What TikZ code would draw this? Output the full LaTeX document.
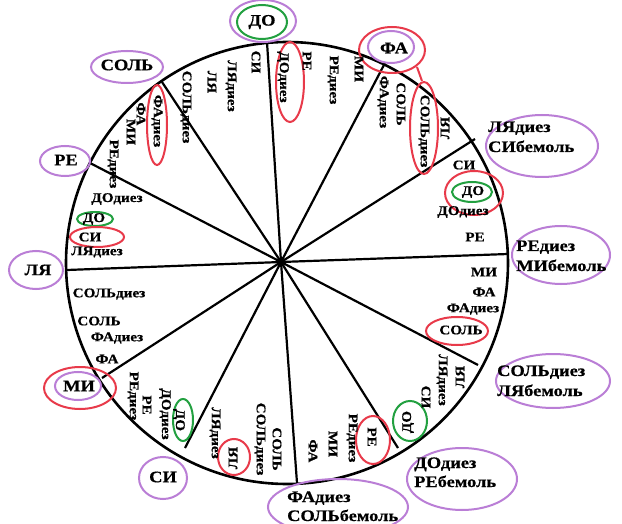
\documentclass[tikz,border=0pt]{standalone}
\usepackage{fontspec}
\newfontfamily\notefont{Liberation Serif Bold}[FakeStretch=1.15,FakeBold=0.6]
\definecolor{elpurple}{RGB}{186,126,214}
\definecolor{elred}{RGB}{232,58,74}
\definecolor{elgreen}{RGB}{34,160,64}
\begin{document}
\begin{tikzpicture}[x=1pt,y=-1pt,
 inn/.style={font=\notefont\fontsize{13.2}{14}\selectfont, inner sep=0pt},
 vdown/.style={inn, rotate=-90},
 vup/.style={inn, rotate=90},
 big/.style={font=\notefont\fontsize{16}{18}\selectfont, inner sep=0pt},
 bigline/.style={font=\notefont\fontsize{16}{18}\selectfont, inner sep=0pt, anchor=base west},
 pe/.style={draw=elpurple, line width=2pt},
 re/.style={draw=elred, line width=2pt},
 ge/.style={draw=elgreen, line width=2pt},
 spoke/.style={line width=2.2pt},
]
\useasboundingbox (0,0) rectangle (622,524);
\fill[white] (0,0) rectangle (622,524);
% circle
\draw[line width=2.6pt] (287,263) circle [radius=221pt];
% spokes
\coordinate (c) at (281,262);
\coordinate (s1) at (267,42);
\coordinate (s2) at (385,63);
\coordinate (s3) at (475,139);
\coordinate (s4) at (508,254);
\coordinate (s5) at (478,365);
\coordinate (s6) at (398,448);
\coordinate (s7) at (297,483);
\coordinate (s8) at (185,448);
\coordinate (s9) at (102,378);
\coordinate (s10) at (67,270);
\coordinate (s11) at (90,163);
\coordinate (s12) at (162,82);
\foreach \s in {s1,s2,s3,s4,s5,s6,s7,s8,s9,s10,s11,s12}{\draw[spoke] (c) -- (\s);}

% outer labels
\draw[pe] (263,21) ellipse [x radius=33pt, y radius=21pt];
\draw[ge] (262,22) ellipse [x radius=25pt, y radius=17pt];
\node[big] (o1) at (262,22) {ДО};

\draw[re] (392,50) ellipse [x radius=33pt, y radius=23pt];
\draw[pe] (391,47) ellipse [x radius=23pt, y radius=16pt];
\node[big] (o2) at (394,48) {ФА};

\draw[pe] (542,146) ellipse [x radius=56pt, y radius=31pt];
\node[bigline] (o3a) at (488,132) {ЛЯдиез};
\node[bigline] (o3b) at (488,152) {СИбемоль};

\draw[pe] (561,255) ellipse [x radius=49pt, y radius=29pt];
\node[bigline] (o4a) at (516,251) {РЕдиез};
\node[bigline] (o4b) at (516,271) {МИбемоль};

\draw[pe] (553,381) ellipse [x radius=57pt, y radius=27pt];
\node[bigline] (o5a) at (497,376) {СОЛЬдиез};
\node[bigline] (o5b) at (497,396) {ЛЯбемоль};

\draw[pe] (462,479) ellipse [x radius=55pt, y radius=31pt];
\node[bigline] (o6a) at (414,468) {ДОдиез};
\node[bigline] (o6b) at (414,487) {РЕбемоль};

\draw[pe] (338,507) ellipse [x radius=70pt, y radius=28pt];
\node[bigline] (o7a) at (287,502) {ФАдиез};
\node[bigline] (o7b) at (287,521) {СОЛЬбемоль};

\draw[pe] (163,478) ellipse [x radius=24pt, y radius=21pt];
\node[big] (o8) at (163,477) {СИ};

\draw[re] (80,388) ellipse [x radius=36pt, y radius=21pt];
\draw[pe] (78,386) ellipse [x radius=23pt, y radius=14pt];
\node[big] (o9) at (79,386) {МИ};

\draw[pe] (36,270) ellipse [x radius=27pt, y radius=19pt];
\node[big] (o10) at (38,270) {ЛЯ};

\draw[pe] (65,161) ellipse [x radius=25pt, y radius=15pt];
\node[big] (o11) at (66,160) {РЕ};

\draw[pe] (127,67) ellipse [x radius=36pt, y radius=16pt];
\node[big] (o12) at (127,65) {СОЛЬ};

% sector 1-2
\draw[re] (290,82) ellipse [x radius=14pt, y radius=40pt];
\node[vdown] (a1) at (283,77) {ДОдиез};
\node[vdown] (a2) at (307,61) {РЕ};
\node[vdown] (a3) at (333,80) {РЕдиез};
\node[vdown] (a4) at (359,69) {МИ};
% sector 2-3
\draw[re] (424,128) ellipse [x radius=14pt, y radius=46pt];
\coordinate (rl1) at (417,67);
\coordinate (rl2) at (422,81);
\draw[re] (rl1) -- (rl2);
\node[vdown] (b1) at (383,102) {ФАдиез};
\node[vdown] (b2) at (401,104) {СОЛЬ};
\node[vdown] (b3) at (424,131) {СОЛЬдиез};
\node[vup] (b4) at (445,128) {ЛЯ};
% sector 3-4
\draw[re] (474,193) ellipse [x radius=29pt, y radius=22pt];
\draw[ge] (472,192) ellipse [x radius=20pt, y radius=10pt];
\node[inn] (c1) at (464,165) {СИ};
\node[inn] (c2) at (473,192) {ДО};
\node[inn] (c3) at (463,212) {ДОдиез};
\node[inn] (c4) at (475,237) {РЕ};
% sector 4-5
\draw[re] (457,331) ellipse [x radius=31pt, y radius=14pt];
\node[inn] (d1) at (484,272) {МИ};
\node[inn] (d2) at (484,292) {ФА};
\node[inn] (d3) at (473,309) {ФАдиез};
\node[inn] (d4) at (461,330) {СОЛЬ};
% sector 5-6
\draw[ge] (410,421) ellipse [x radius=17pt, y radius=20pt];
\node[vup] (e1) at (460,377) {ЛЯ};
\node[vdown] (e2) at (442,380) {ЛЯдиез};
\node[vdown] (e3) at (426,397) {СИ};
\node[vup] (e4) at (408,422) {ДО};
% sector 6-7
\draw[re] (373,440) ellipse [x radius=17pt, y radius=24pt];
\node[vdown] (f1) at (372,437) {РЕ};
\node[vdown] (f2) at (352,438) {РЕдиез};
\node[vdown] (f3) at (333,444) {МИ};
\node[vdown] (f4) at (313,451) {ФА};
% sector 7-8
\draw[re] (234,457) ellipse [x radius=16pt, y radius=18pt];
\node[vdown] (g1) at (277,449) {СОЛЬ};
\node[vdown] (g2) at (260,439) {СОЛЬдиез};
\node[vup] (g3) at (233,458) {ЛЯ};
\node[vdown] (g4) at (215,433) {ЛЯдиез};
% sector 8-9
\draw[ge] (183,420) ellipse [x radius=10pt, y radius=21pt];
\node[vdown] (h1) at (179,420) {ДО};
\node[vdown] (h2) at (165,414) {ДОдиез};
\node[vdown] (h3) at (147,405) {РЕ};
\node[vdown] (h4) at (133,396) {РЕдиез};
% sector 9-10
\node[inn] (i1) at (109,294) {СОЛЬдиез};
\node[inn] (i2) at (99,321) {СОЛЬ};
\node[inn] (i3) at (117,338) {ФАдиез};
\node[inn] (i4) at (107,359) {ФА};
% sector 10-11
\draw[ge] (95,219) ellipse [x radius=18pt, y radius=7pt];
\draw[re] (97,237) ellipse [x radius=27pt, y radius=10pt];
\node[inn] (j1) at (97,252) {ЛЯдиез};
\node[inn] (j2) at (90,237) {СИ};
\node[inn] (j3) at (94,219) {ДО};
\node[inn] (j4) at (117,199) {ДОдиез};
% sector 11-12
\draw[re] (157,125) ellipse [x radius=10pt, y radius=40pt];
\node[vdown] (k1) at (113,164) {РЕдиез};
\node[vdown] (k2) at (131,132) {МИ};
\node[vdown] (k3) at (141,114) {ФА};
\node[vdown] (k4) at (157,121) {ФАдиез};
% sector 12-1
\node[vdown] (l1) at (186,107) {СОЛЬдиез};
\node[vdown] (l2) at (212,82) {ЛЯ};
\node[vdown] (l3) at (231,86) {ЛЯдиез};
\node[vdown] (l4) at (256,62) {СИ};
\end{tikzpicture}
\end{document}
